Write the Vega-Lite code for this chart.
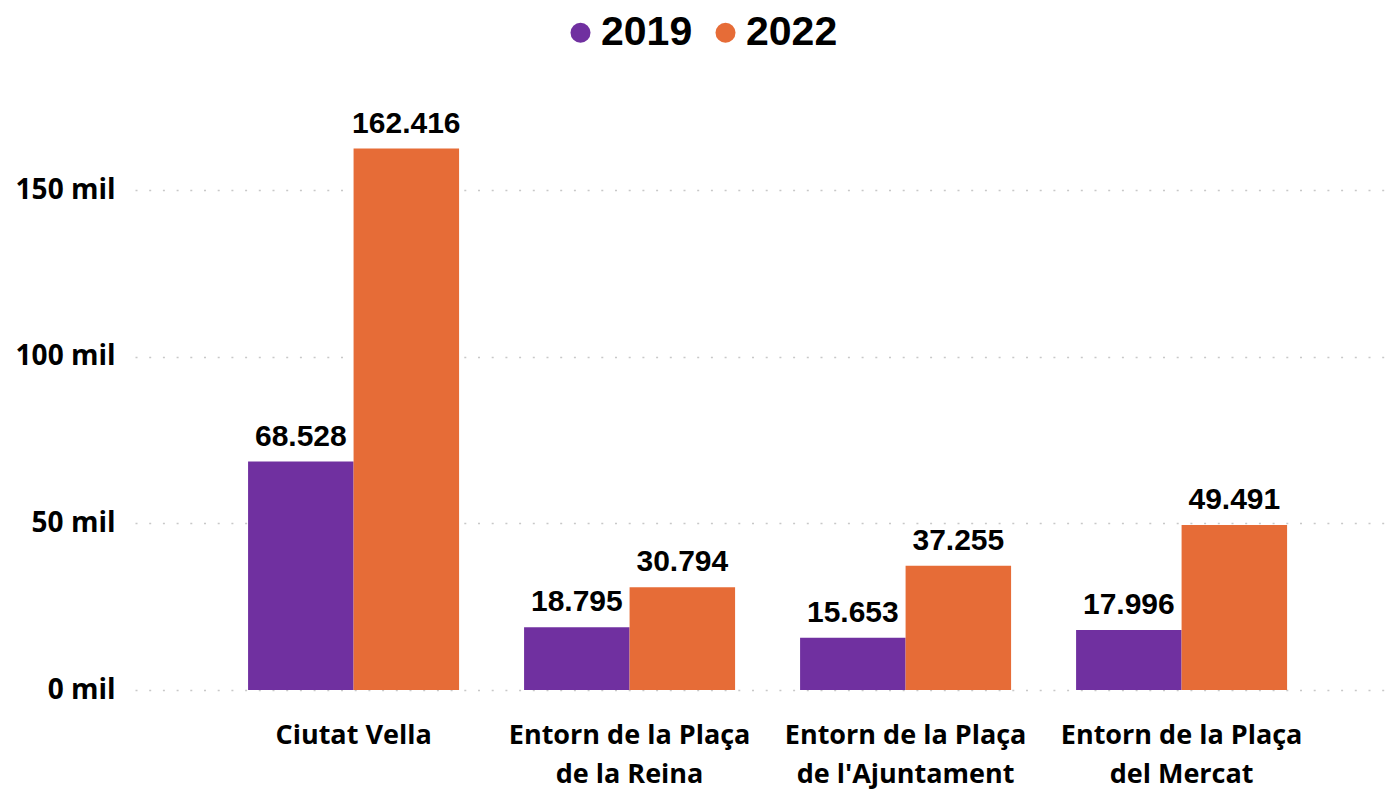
{
  "$schema": "https://vega.github.io/schema/vega-lite/v6.json",
  "autosize": {"type": "none"},
  "padding": {"left": 135, "top": 90, "right": 0, "bottom": 100},
  "width": 1259,
  "height": 600,
  "background": "white",
  "config": {
    "locale": {"number": {"decimal": ",", "thousands": ".", "grouping": [3], "currency": ["", "€"]}},
    "view": {"stroke": null}
  },
  "data": {
    "values": [
      {"zona": "Ciutat Vella", "any": "2019", "visitants": 68528},
      {"zona": "Ciutat Vella", "any": "2022", "visitants": 162416},
      {"zona": "Entorn de la Plaça de la Reina", "any": "2019", "visitants": 18795},
      {"zona": "Entorn de la Plaça de la Reina", "any": "2022", "visitants": 30794},
      {"zona": "Entorn de la Plaça de l'Ajuntament", "any": "2019", "visitants": 15653},
      {"zona": "Entorn de la Plaça de l'Ajuntament", "any": "2022", "visitants": 37255},
      {"zona": "Entorn de la Plaça del Mercat", "any": "2019", "visitants": 17996},
      {"zona": "Entorn de la Plaça del Mercat", "any": "2022", "visitants": 49491}
    ]
  },
  "encoding": {
    "x": {
      "field": "zona",
      "type": "nominal",
      "sort": null,
      "title": null,
      "scale": {"paddingInner": 0.2355, "paddingOuter": 0.3985, "align": 0.514},
      "axis": {
        "labelAngle": 0,
        "domain": false,
        "ticks": false,
        "labelFont": "Open Sans",
        "labelFontWeight": "bold",
        "labelFontSize": 27,
        "labelColor": "#000000",
        "labelPadding": 32,
        "labelLineHeight": 39,
        "labelLimit": 400,
        "labelExpr": "datum.label == 'Ciutat Vella' ? datum.label : [substring(datum.label, 0, 18), substring(datum.label, 19)]"
      }
    },
    "xOffset": {"field": "any", "type": "nominal"},
    "y": {
      "field": "visitants",
      "type": "quantitative",
      "title": null,
      "scale": {"domain": [0, 180000], "nice": false},
      "axis": {
        "values": [0, 50000, 100000, 150000],
        "domain": false,
        "ticks": false,
        "grid": true,
        "gridColor": "#c8c8c8",
        "gridDash": [2, 11.7],
        "gridWidth": 1.5,
        "labelFont": "Open Sans",
        "labelFontWeight": "bold",
        "labelFontSize": 28,
        "labelColor": "#000000",
        "labelPadding": 20,
        "labelExpr": "(datum.value / 1000) + ' mil'"
      }
    }
  },
  "layer": [
    {
      "mark": {"type": "bar"},
      "encoding": {
        "color": {
          "field": "any",
          "type": "nominal",
          "scale": {"domain": ["2019", "2022"], "range": ["#7030A0", "#E66C37"]},
          "legend": {
            "title": null,
            "orient": "none",
            "direction": "horizontal",
            "legendX": 425,
            "legendY": -78,
            "symbolType": "circle",
            "symbolSize": 400,
            "symbolStrokeWidth": 0,
            "labelFont": "Liberation Sans",
            "labelFontWeight": "bold",
            "labelFontSize": 41,
            "labelColor": "#000000",
            "labelOffset": 0,
            "columnPadding": 12
          }
        }
      }
    },
    {
      "mark": {
        "type": "text",
        "baseline": "alphabetic",
        "dy": -16,
        "font": "Liberation Sans",
        "fontWeight": "bold",
        "fontSize": 30,
        "color": "#000000"
      },
      "encoding": {
        "text": {"field": "visitants", "type": "quantitative", "format": ",d"}
      }
    }
  ]
}
